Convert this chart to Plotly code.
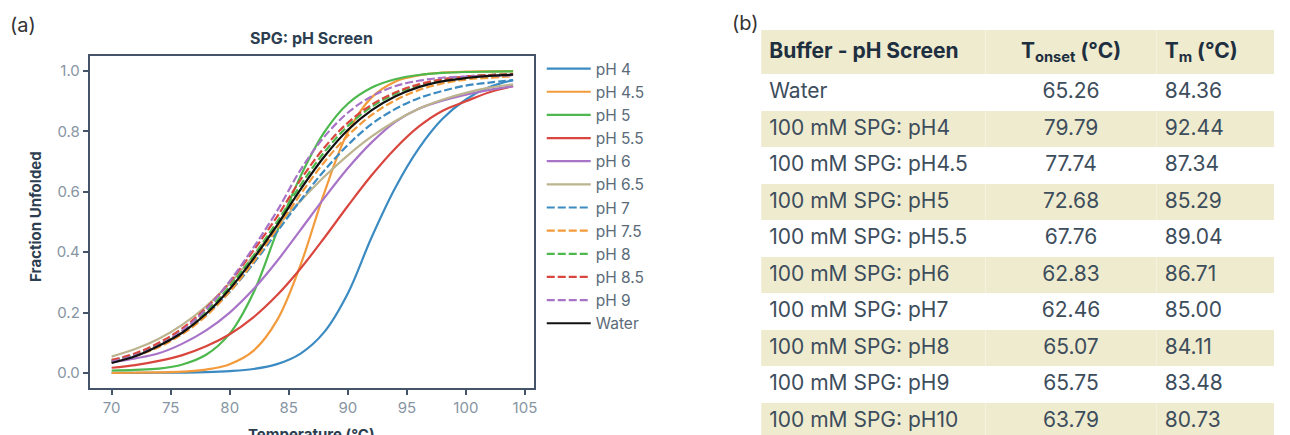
import plotly.graph_objects as go

# ---------------- data ----------------
temps = [70, 72, 74, 76, 78, 80, 82, 84, 86, 88, 90, 92, 94, 96, 98, 100, 102, 104]

ph4   = [0.0001, 0.0002, 0.0005, 0.0011, 0.0025, 0.006, 0.013, 0.029, 0.064, 0.135, 0.263, 0.448, 0.612, 0.743, 0.841, 0.906, 0.947, 0.970]
ph4_5 = [0.0002, 0.0006, 0.0016, 0.004, 0.011, 0.029, 0.073, 0.174, 0.358, 0.596, 0.797, 0.912, 0.965, 0.986, 0.995, 0.998, 0.999, 1.000]
ph5   = [0.008, 0.010, 0.014, 0.028, 0.060, 0.130, 0.265, 0.467, 0.652, 0.797, 0.892, 0.945, 0.973, 0.987, 0.994, 0.997, 0.998, 0.999]
ph5_5 = [0.017, 0.026, 0.040, 0.059, 0.088, 0.128, 0.184, 0.257, 0.346, 0.447, 0.553, 0.654, 0.743, 0.816, 0.868, 0.900, 0.930, 0.950]
ph6   = [0.035, 0.048, 0.065, 0.097, 0.141, 0.200, 0.277, 0.370, 0.474, 0.579, 0.678, 0.763, 0.831, 0.875, 0.902, 0.922, 0.938, 0.950]
ph6_5 = [0.054, 0.079, 0.113, 0.160, 0.221, 0.297, 0.387, 0.485, 0.570, 0.650, 0.721, 0.783, 0.834, 0.875, 0.905, 0.928, 0.945, 0.956]
ph7   = [0.040, 0.061, 0.091, 0.134, 0.192, 0.269, 0.362, 0.467, 0.572, 0.670, 0.755, 0.824, 0.874, 0.910, 0.934, 0.952, 0.962, 0.970]
ph7_5 = [0.036, 0.056, 0.086, 0.129, 0.189, 0.269, 0.367, 0.478, 0.592, 0.698, 0.786, 0.854, 0.903, 0.937, 0.959, 0.972, 0.978, 0.983]
ph8   = [0.040, 0.061, 0.094, 0.140, 0.204, 0.287, 0.388, 0.500, 0.622, 0.731, 0.818, 0.881, 0.924, 0.953, 0.971, 0.982, 0.987, 0.990]
ph8_5 = [0.043, 0.065, 0.100, 0.148, 0.215, 0.301, 0.405, 0.517, 0.640, 0.746, 0.829, 0.888, 0.929, 0.956, 0.973, 0.982, 0.987, 0.990]
ph9   = [0.037, 0.058, 0.092, 0.141, 0.211, 0.304, 0.415, 0.536, 0.673, 0.782, 0.862, 0.916, 0.950, 0.968, 0.978, 0.982, 0.984, 0.986]
water = [0.033, 0.055, 0.090, 0.134, 0.196, 0.278, 0.378, 0.489, 0.608, 0.716, 0.805, 0.870, 0.916, 0.947, 0.966, 0.977, 0.984, 0.988]

series_names = ["pH 4", "pH 4.5", "pH 5", "pH 5.5", "pH 6", "pH 6.5",
                "pH 7", "pH 7.5", "pH 8", "pH 8.5", "pH 9", "Water"]
series_values = [ph4, ph4_5, ph5, ph5_5, ph6, ph6_5, ph7, ph7_5, ph8, ph8_5, ph9, water]

x_ticks = [70, 75, 80, 85, 90, 95, 100, 105]
y_ticks = [0.0, 0.2, 0.4, 0.6, 0.8, 1.0]

table_buffers = ["Water", "100 mM SPG: pH4", "100 mM SPG: pH4.5", "100 mM SPG: pH5",
                 "100 mM SPG: pH5.5", "100 mM SPG: pH6", "100 mM SPG: pH7",
                 "100 mM SPG: pH8", "100 mM SPG: pH9", "100 mM SPG: pH10"]
table_tonset = [65.26, 79.79, 77.74, 72.68, 67.76, 62.83, 62.46, 65.07, 65.75, 63.79]
table_tm = [84.36, 92.44, 87.34, 85.29, 89.04, 86.71, 85.00, 84.11, 83.48, 80.73]
table_headers = ["<b>Buffer - pH Screen</b>", "<b>T<sub>onset</sub> (°C)</b>", "<b>T<sub>m</sub> (°C)</b>"]

# ---------------- styles ----------------
OFF = 8                      # page body margin
W, H = 1290 - OFF, 435 - OFF
FONT = "Inter"
colors = ["#3b8bc2", "#f39a3b", "#4db84d", "#d9463e", "#a874c8", "#bcb48e",
          "#3b8bc2", "#f39a3b", "#4db84d", "#d9463e", "#a874c8", "#111111"]
dashes = ["solid"] * 6 + ["8px,3px"] * 5 + ["solid"]
AX = "#44556a"
TICK_TXT = "#8795a3"
TITLE_TXT = "#2c3e50"
BAND = "#efebcf"


def px_x(p):
    return (p - OFF) / W


def px_y(p):
    return 1 - (p - OFF) / H


fig = go.Figure()
for name, vals, c, d in zip(series_names, series_values, colors, dashes):
    fig.add_trace(go.Scatter(
        x=temps, y=vals, name=name, mode="lines",
        line=dict(color=c, width=2.2, dash=d, shape="spline", smoothing=1.0),
    ))

fig.update_layout(
    width=W, height=H,
    margin=dict(l=0, r=0, t=0, b=0),
    paper_bgcolor="white", plot_bgcolor="white",
    font=dict(family=FONT, color=TITLE_TXT),
    xaxis=dict(
        domain=[px_x(90), px_x(535)], range=[68.15, 105.75],
        tickvals=x_ticks, ticks="outside", ticklen=5, tickwidth=1.5, tickcolor=AX,
        showline=True, linecolor=AX, linewidth=2, mirror=True,
        showgrid=False, zeroline=False,
        tickfont=dict(family=FONT, size=15, color=TICK_TXT),
    ),
    yaxis=dict(
        domain=[px_y(388), px_y(56)], range=[-0.05, 1.05],
        tickvals=y_ticks, tickformat=".1f", ticks="outside", ticklen=5, tickwidth=1.5, tickcolor=AX,
        showline=True, linecolor=AX, linewidth=2, mirror=True,
        showgrid=False, zeroline=False,
        tickfont=dict(family=FONT, size=15, color=TICK_TXT),
    ),
    legend=dict(
        x=px_x(543), y=px_y(52), xanchor="left", yanchor="top",
        font=dict(family=FONT, size=15.5, color="#5b6b7a"),
        bgcolor="rgba(0,0,0,0)", borderwidth=0, tracegroupgap=0, itemwidth=44,
    ),
    showlegend=True,
)

annotations = [
    dict(text="(a)", x=px_x(8), y=px_y(25), xanchor="left", yanchor="middle",
         font=dict(family=FONT, size=20, color="#333333")),
    dict(text="(b)", x=px_x(732), y=px_y(23), xanchor="left", yanchor="middle",
         font=dict(family=FONT, size=20, color="#333333")),
    dict(text="<b>SPG: pH Screen</b>", x=px_x(312), y=px_y(38), xanchor="center", yanchor="middle",
         font=dict(family=FONT, size=16, color=TITLE_TXT)),
    dict(text="<b>Fraction Unfolded</b>", x=px_x(35), y=px_y(216), xanchor="center", yanchor="middle",
         textangle=-90, font=dict(family=FONT, size=15, color=TITLE_TXT)),
    dict(text="<b>Temperature (°C)</b>", x=px_x(312), y=px_y(434), xanchor="center", yanchor="middle",
         font=dict(family=FONT, size=15, color=TITLE_TXT)),
]
for a in annotations:
    a.update(xref="paper", yref="paper", showarrow=False)
fig.update_layout(annotations=annotations)

# ---------------- table (b) ----------------
n = len(table_buffers)
row_fill = ["white" if i % 2 == 0 else BAND for i in range(n)]
row_h = 36.5
fig.add_trace(go.Table(
    domain=dict(x=[px_x(763), px_x(1278)], y=[0, px_y(30)]),
    columnwidth=[225, 172, 118],
    header=dict(
        values=table_headers,
        fill=dict(color=BAND),
        line=dict(width=0, color=BAND),
        align=["left", "center", "left"],
        font=dict(family=FONT, size=21, color="#1e2f40"),
        height=row_h,
    ),
    cells=dict(
        values=[table_buffers, table_tonset, table_tm],
        format=[None, ".2f", ".2f"],
        fill=dict(color=[row_fill, row_fill, row_fill]),
        line=dict(width=0, color="white"),
        align=["left", "center", "left"],
        font=dict(family=FONT, size=21, color="#3d4d5c"),
        height=row_h,
    ),
))

fig.write_html("out.html")
